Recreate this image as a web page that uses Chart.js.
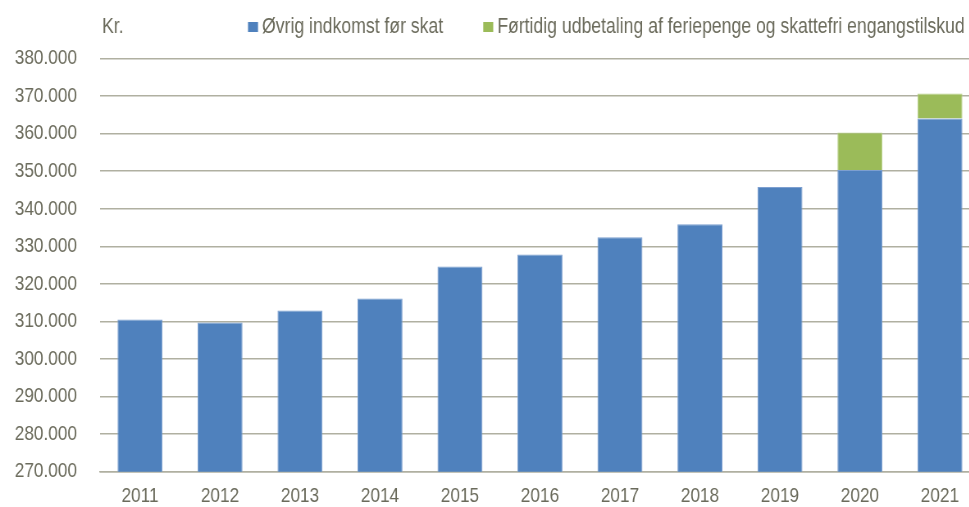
<!DOCTYPE html>
<html>
<head>
<meta charset="utf-8">
<script src="https://cdn.jsdelivr.net/npm/chart.js@4"></script>
<style>
    html, body { margin: 0; padding: 0; background: #fff; overflow: hidden; }
    #wrap { width: 969px; height: 507px; overflow: hidden; position: relative; }
    /* chart is drawn wider, then squeezed so the Arial text looks like Arial Narrow */
    #squeeze { position: absolute; left: 0; top: 0; width: 1207px; height: 507px; transform: scaleX(0.82); transform-origin: 0 0; }
    #chart { display: block; }
</style>
</head>
<body>
<div id="wrap"><div id="squeeze"><canvas id="chart" width="1207" height="507" style="width:1207px;height:507px"></canvas></div></div>
<script>
const years = ['2011', '2012', '2013', '2014', '2015', '2016', '2017', '2018', '2019', '2020', '2021'];
const otherIncome = [310500, 309700, 312900, 316100, 324600, 327800, 332400, 335900, 345800, 350300, 364000];
const earlyPayout = [0, 0, 0, 0, 0, 0, 0, 0, 0, 10000, 6700];
const seriesNames = ['Øvrig indkomst før skat', 'Førtidig udbetaling af feriepenge og skattefri engangstilskud'];
const unitLabel = 'Kr.';

const SQ = 0.82; // must match the scaleX in the css
const FONT = "'Liberation Sans', Arial, sans-serif";
const textColor = '#6b6b5c';
const gridColor = '#b0b0a1';

// legend + "Kr." drawn at the top
const topLegend = {
    id: 'topLegend',
    afterDraw(chart) {
        const ctx = chart.ctx;
        ctx.save();
        ctx.font = `21.5px ${FONT}`;
        ctx.textBaseline = 'middle';
        ctx.fillStyle = textColor;
        ctx.textAlign = 'left';
        ctx.fillText(unitLabel, 102 / SQ, 27);

        let x = 248 / SQ;
        chart.data.datasets.forEach(ds => {
            ctx.fillStyle = ds.backgroundColor;
            ctx.fillRect(x, 22, 10 / SQ, 10);
            ctx.fillStyle = textColor;
            ctx.fillText(ds.label, x + 14 / SQ, 27);
            x += 14 / SQ + ctx.measureText(ds.label).width + 40 / SQ;
        });
        ctx.restore();
    }
};

new Chart(document.getElementById('chart'), {
    type: 'bar',
    data: {
        labels: years,
        datasets: [
            {
                label: seriesNames[0],
                data: otherIncome,
                backgroundColor: '#4f81bd',
                borderColor: '#7d9fd0',
                borderWidth: 1,
                borderSkipped: 'bottom'
            },
            {
                label: seriesNames[1],
                data: earlyPayout,
                backgroundColor: '#9bbb59',
                borderColor: '#b9d18c',
                borderWidth: 1,
                borderSkipped: 'bottom'
            }
        ]
    },
    options: {
        responsive: false,
        animation: false,
        devicePixelRatio: 1,
        layout: { padding: { top: 58.5, left: 0, right: 12, bottom: 0 } },
        datasets: { bar: { categoryPercentage: 1, barPercentage: 0.5625 } },
        plugins: {
            legend: { display: false },
            tooltip: { enabled: false }
        },
        scales: {
            x: {
                stacked: true,
                grid: { display: false, drawTicks: false },
                border: { display: true, color: gridColor, width: 1.5 },
                ticks: { color: textColor, font: { family: FONT, size: 21 }, padding: 12 },
                afterFit: (scale) => { scale.height = 35.3; }
            },
            y: {
                stacked: true,
                min: 270000,
                max: 380000,
                // invisible tick marks make the gap between labels and plot
                // (tick padding would also push the plot bottom up)
                grid: { color: gridColor, lineWidth: 1.5, drawTicks: true, tickLength: 23 / SQ, tickColor: 'rgba(0,0,0,0)' },
                border: { display: false },
                ticks: {
                    stepSize: 10000,
                    color: textColor,
                    font: { family: FONT, size: 21 },
                    padding: 0,
                    callback: (v) => String(v / 1000) + '.000'
                },
                afterFit: (scale) => { scale.width = 100 / SQ; }
            }
        }
    },
    plugins: [topLegend]
});
</script>
</body>
</html>
